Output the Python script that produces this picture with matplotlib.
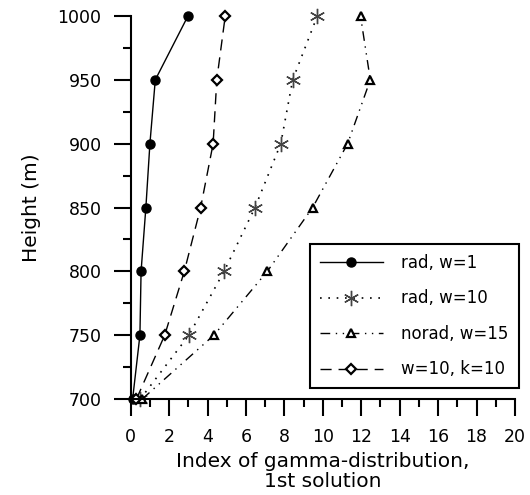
import numpy as np
import matplotlib.pyplot as plt
from matplotlib.ticker import MultipleLocator

plt.rcParams['font.family'] = ['DejaVu Sans']

# Alturas (m)
altura = [700, 750, 800, 850, 900, 950, 1000]

# Índice da distribuição gama, 1a solução
rad_w1 = [0.1, 0.48, 0.54, 0.79, 1.0, 1.28, 2.98]
rad_w10 = [0.5, 3.03, 4.86, 6.47, 7.81, 8.43, 9.71]
norad_w15 = [0.6, 4.33, 7.11, 9.47, 11.29, 12.47, 11.96]
w10_k10 = [0.3, 1.77, 2.79, 3.64, 4.29, 4.48, 4.92]

rotulos = ['rad, w=1', 'rad, w=10', 'norad, w=15', 'w=10, k=10']

fig = plt.figure(figsize=(5.3, 4.95), dpi=100)
ax = fig.add_axes([0.2466, 0.1939, 0.7251, 0.7738])

ax.plot(rad_w1, altura, color='k', lw=1.0, ls='-', marker='o', ms=6.5,
        mfc='k', mec='k', clip_on=False, label=rotulos[0])
ax.plot(rad_w10, altura, color='k', lw=1.2, ls=(0, (1, 4)), marker=(6, 2, 0),
        ms=11, mec='#444444', mew=1.0, clip_on=False, label=rotulos[1])
ax.plot(norad_w15, altura, color='k', lw=1.0, ls=(0, (7, 4, 1, 4, 1, 4)),
        marker='^', ms=6, mfc='white', mec='k', mew=1.6, clip_on=False,
        label=rotulos[2])
ax.plot(w10_k10, altura, color='k', lw=1.0, ls=(0, (8, 5)), marker='D',
        ms=5, mfc='white', mec='k', mew=1.6, clip_on=False, label=rotulos[3])

ax.set_xlim(0, 20)
ax.set_ylim(700, 1000)

ax.xaxis.set_major_locator(MultipleLocator(2))
ax.xaxis.set_minor_locator(MultipleLocator(1))
ax.yaxis.set_major_locator(MultipleLocator(50))
ax.yaxis.set_minor_locator(MultipleLocator(25))

ax.spines['top'].set_visible(False)
ax.spines['right'].set_visible(False)
for s in ['left', 'bottom']:
    ax.spines[s].set_linewidth(1.5)

ax.tick_params(which='major', direction='out', length=12, width=1.5,
               labelsize=12.5, pad=9)
ax.tick_params(which='minor', direction='out', length=6, width=1.5)

ax.set_ylabel('Height (m)', fontsize=14.5, labelpad=12)
ax.set_xlabel('Index of gamma-distribution,\n1st solution', fontsize=14.5,
              labelpad=4, linespacing=1.1)

leg = ax.legend(loc='upper left', bbox_to_anchor=(0.466, 0.405),
                borderaxespad=0, fontsize=12, handlelength=3.8,
                labelspacing=1.05, fancybox=False, framealpha=1,
                edgecolor='k', borderpad=0.6, handletextpad=1.1)
leg.get_frame().set_linewidth(1.5)

fig.savefig('out.png', dpi=100)
